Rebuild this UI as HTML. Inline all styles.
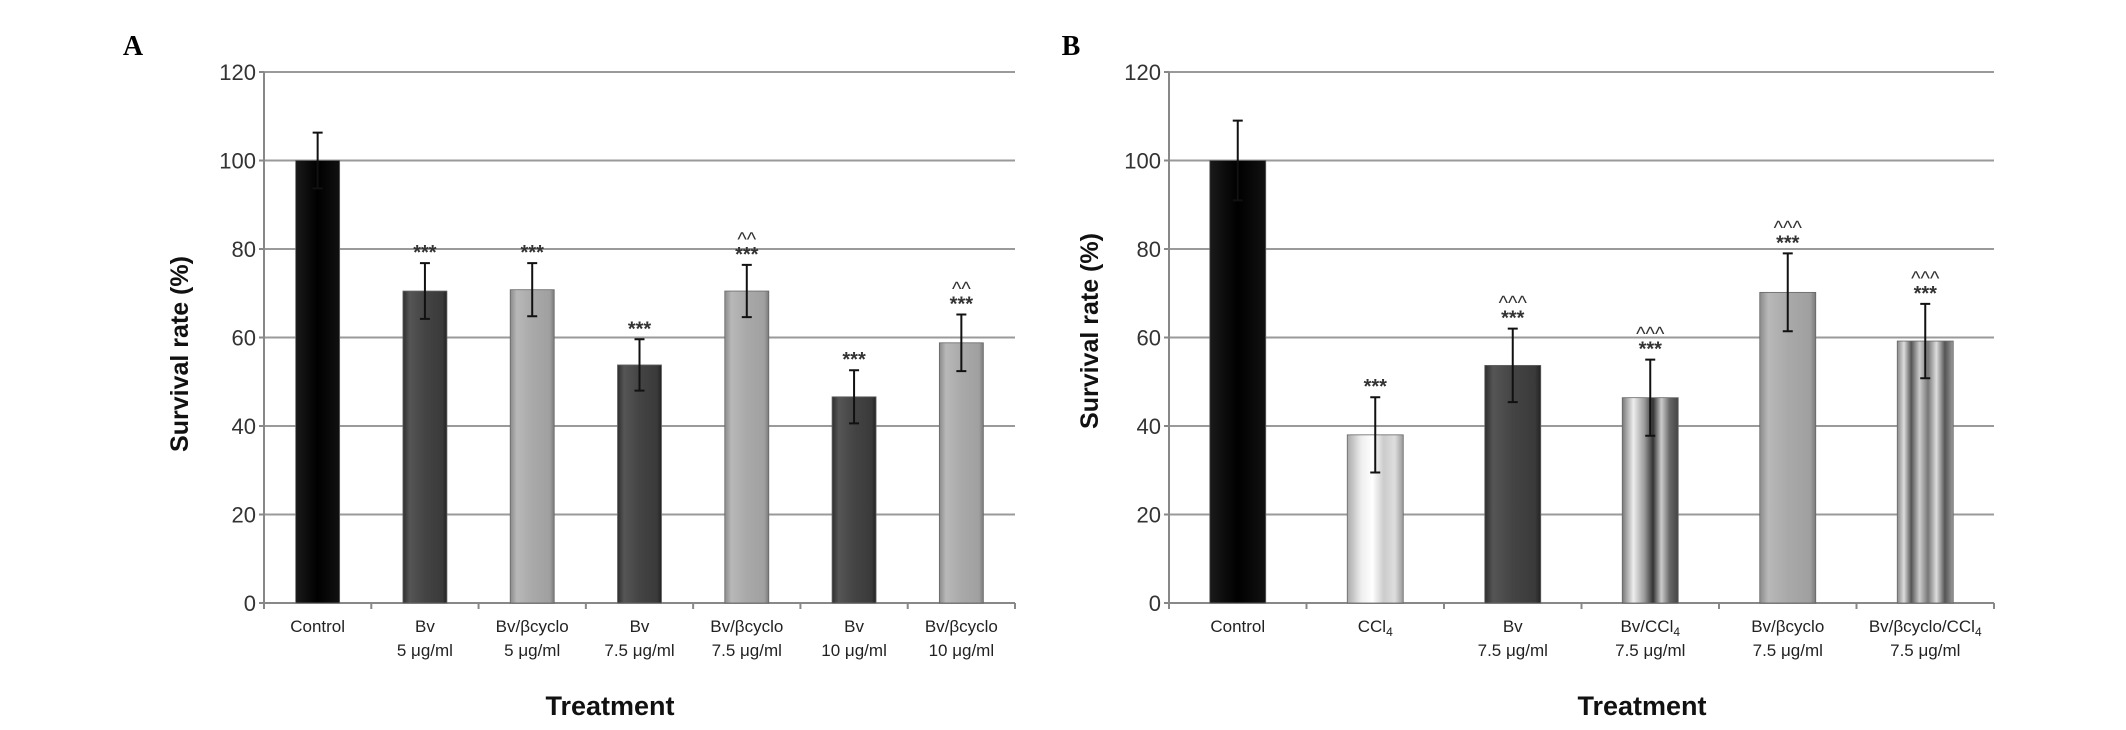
<!DOCTYPE html>
<html><head><meta charset="utf-8"><style>
body{margin:0;background:#fff;}
svg{display:block;font-family:"Liberation Sans",sans-serif;}
</style></head><body>
<svg id="chart" width="2126" height="730" viewBox="0 0 2126 730">
<defs>
<linearGradient id="gBlack" x1="0" x2="1"><stop offset="0" stop-color="#1a1a1a"/><stop offset="0.5" stop-color="#000"/><stop offset="1" stop-color="#111"/></linearGradient>
<linearGradient id="gDark" x1="0" x2="1"><stop offset="0" stop-color="#2e2e2e"/><stop offset="0.15" stop-color="#555"/><stop offset="0.5" stop-color="#444"/><stop offset="0.9" stop-color="#3a3a3a"/><stop offset="1" stop-color="#222"/></linearGradient>
<linearGradient id="gLight" x1="0" x2="1"><stop offset="0" stop-color="#8a8a8a"/><stop offset="0.15" stop-color="#b8b8b8"/><stop offset="0.5" stop-color="#a9a9a9"/><stop offset="0.9" stop-color="#a0a0a0"/><stop offset="1" stop-color="#7a7a7a"/></linearGradient>
<linearGradient id="gWhite" x1="0" x2="1"><stop offset="0" stop-color="#aaa"/><stop offset="0.25" stop-color="#eee"/><stop offset="0.45" stop-color="#fff"/><stop offset="0.65" stop-color="#ccc"/><stop offset="0.85" stop-color="#ddd"/><stop offset="1" stop-color="#999"/></linearGradient>
<linearGradient id="gStripe" x1="0" x2="1"><stop offset="0" stop-color="#777"/><stop offset="0.2" stop-color="#eee"/><stop offset="0.4" stop-color="#999"/><stop offset="0.55" stop-color="#333"/><stop offset="0.7" stop-color="#ccc"/><stop offset="0.85" stop-color="#666"/><stop offset="1" stop-color="#444"/></linearGradient>
<linearGradient id="gStripe2" x1="0" x2="1"><stop offset="0" stop-color="#888"/><stop offset="0.12" stop-color="#ddd"/><stop offset="0.25" stop-color="#555"/><stop offset="0.4" stop-color="#ccc"/><stop offset="0.55" stop-color="#777"/><stop offset="0.7" stop-color="#ddd"/><stop offset="0.85" stop-color="#555"/><stop offset="1" stop-color="#999"/></linearGradient>
</defs>
<text x="133" y="55" font-family="Liberation Serif,serif" font-weight="bold" font-size="28" text-anchor="middle">A</text>
<text x="1071" y="55" font-family="Liberation Serif,serif" font-weight="bold" font-size="28" text-anchor="middle">B</text>
</svg>
<script>
const catsA = [["Control"],["Bv","5 μg/ml"],["Bv/βcyclo","5 μg/ml"],["Bv","7.5 μg/ml"],["Bv/βcyclo","7.5 μg/ml"],["Bv","10 μg/ml"],["Bv/βcyclo","10 μg/ml"]];
const valsA = [100,70.5,70.8,53.8,70.5,46.6,58.8];
const errsA = [6.3,6.3,6,5.8,5.9,6,6.4];
const annA = [[],["***"],["***"],["***"],["^^","***"],["***"],["^^","***"]];
const fillA = ["gBlack","gDark","gLight","gDark","gLight","gDark","gLight"];
const catsB = [["Control"],["CCl4"],["Bv","7.5 μg/ml"],["Bv/CCl4","7.5 μg/ml"],["Bv/βcyclo","7.5 μg/ml"],["Bv/βcyclo/CCl4","7.5 μg/ml"]];
const valsB = [100,38,53.7,46.4,70.2,59.2];
const errsB = [9,8.5,8.3,8.6,8.8,8.4];
const annB = [[],["***"],["^^^","***"],["^^^","***"],["^^^","***"],["^^^","***"]];
const fillB = ["gBlack","gWhite","gDark","gStripe","gLight","gStripe2"];
const yTicks = [0,20,40,60,80,100,120];

const svg = document.getElementById('chart');
const NS = 'http://www.w3.org/2000/svg';
function mk(tag, attrs, txt){const e=document.createElementNS(NS,tag);for(const k in attrs)e.setAttribute(k,attrs[k]);if(txt!==undefined)e.textContent=txt;svg.appendChild(e);return e;}
function panel(p, cats, vals, errs, anns, fills){
  const y = v => p.y0 - (v/120)*(p.y0-p.y1);
  const slot = (p.x1-p.x0)/cats.length;
  const cx = i => p.x0 + slot*(i+0.5);
  yTicks.forEach(t=>{
    if(t>0){const g=mk('line',{x1:p.x0,x2:p.x1,y1:y(t),y2:y(t),stroke:'#9a9a9a','stroke-width':2});
    }
    const tk=mk('line',{x1:p.x0-5,x2:p.x0,y1:y(t),y2:y(t),stroke:'#888','stroke-width':2});
    
    const tl=mk('text',{x:p.x0-8,y:y(t)+8,'text-anchor':'end','font-size':22,fill:'#333'},String(t));
    
  });
  const ax=mk('line',{x1:p.x0,x2:p.x0,y1:y(120),y2:p.y0,stroke:'#888','stroke-width':2});
  
  const bx=mk('line',{x1:p.x0,x2:p.x1,y1:p.y0,y2:p.y0,stroke:'#888','stroke-width':2});
  
  for(let i=0;i<=cats.length;i++){
    const t=mk('line',{x1:p.x0+slot*i,x2:p.x0+slot*i,y1:p.y0,y2:p.y0+6,stroke:'#888','stroke-width':2});
    
  }
  cats.forEach((c,i)=>{
    const b=mk('rect',{x:cx(i)-p.bw/2,y:y(vals[i]),width:p.bw,height:p.y0-y(vals[i]),fill:'url(#'+fills[i]+')',stroke:'#666','stroke-width':0.8});
    
    const hi=y(vals[i]+errs[i]), lo=y(vals[i]-errs[i]);
    const e=mk('path',{d:`M${cx(i)} ${hi}V${lo}M${cx(i)-5} ${hi}H${cx(i)+5}M${cx(i)-5} ${lo}H${cx(i)+5}`,stroke:'#111','stroke-width':2,fill:'none'});
    
    const a=anns[i];
    a.forEach((s,k)=>{
      const ty = hi - 4 - (a.length-1-k)*15;
      const t=mk('text',{x:cx(i),y:ty,'text-anchor':'middle','font-size':20,'font-weight':s==='***'?'bold':'normal',fill:'#333'},s);
      
    });
    c.forEach((ln,k)=>{
      const t=mk('text',{x:cx(i),y:p.y0+29+k*24,'text-anchor':'middle','font-size':17,fill:'#222'});
      
      const m=ln.match(/^(.*CCl)4$/);
      if(m){t.appendChild(document.createTextNode(m[1]));const s=document.createElementNS(NS,'tspan');s.setAttribute('font-size','12');s.setAttribute('dy','4');s.textContent='4';t.appendChild(s);}
      else t.textContent=ln;
    });
  });
  const yt=mk('text',{x:p.ytx,y:p.yty,'text-anchor':'middle','font-size':25,'font-weight':'bold',fill:'#111',transform:`rotate(-90 ${p.ytx} ${p.yty})`},'Survival rate (%)');
  
  const xt=mk('text',{x:p.xtx,y:715,'text-anchor':'middle','font-size':27,'font-weight':'bold',fill:'#111'},'Treatment');
  
}
panel({x0:264,x1:1015,y0:603,y1:72,bw:44,ytx:188,yty:354,xtx:610},catsA,valsA,errsA,annA,fillA);
panel({x0:1169,x1:1994,y0:603,y1:72,bw:56,ytx:1098,yty:331,xtx:1642},catsB,valsB,errsB,annB,fillB);
</script>
</body></html>
